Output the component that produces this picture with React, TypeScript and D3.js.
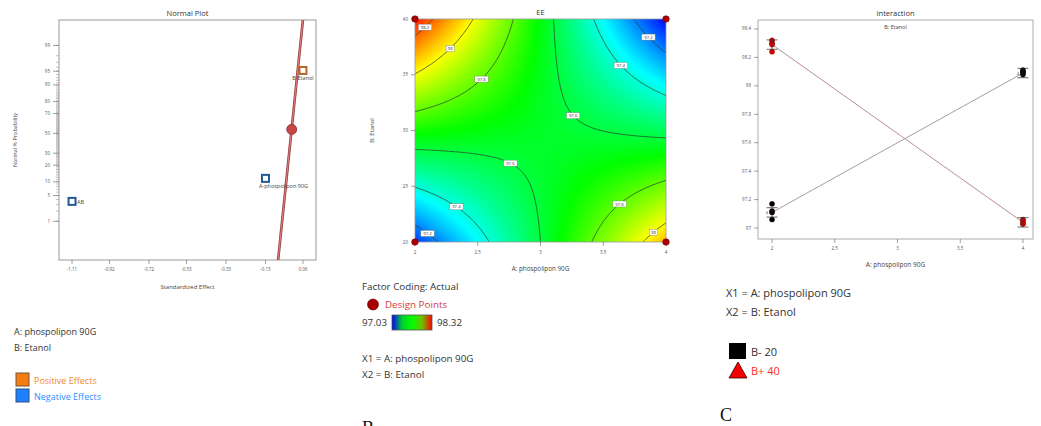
import React from 'react';
import * as d3 from 'd3';

// Normal plot of effects
const effectTerms = ['AB', 'A-phospolipon 90G', 'B-Etanol'];
const effectValues = [-1.11, -0.13, 0.06];
const effectProbs = [3.6, 11.7, 95.2];
const effectSigns = ['neg', 'neg', 'pos'];
const errorEffects = [0.003];
const errorProbs = [54.2];
const fitLineEffects = [-0.066, 0.06];
const fitLineProbs = [0.04, 99.87];
const effectTicks = [-1.11, -0.92, -0.72, -0.53, -0.33, -0.13, 0.06];
const probTicks = [1, 5, 10, 20, 30, 50, 70, 80, 90, 95, 99];

// EE response: means at A = 2 and A = 4
const levelsA = [2, 4];
const levelsB = [20, 40];
const meanB20 = [97.11, 98.09];
const meanB40 = [98.29, 97.04];
const obsB20 = [[97.17, 97.12, 97.11, 97.06], [98.11, 98.1, 98.09, 98.08]];
const obsB40 = [[98.32, 98.3, 98.29, 98.24], [97.06, 97.05, 97.03, 97.03]];
const replicates = [4, 4];
const lsdHalf = 0.033;
const colorRange = [97.03, 98.32];
const contourLevels = [97.2, 97.4, 97.6, 97.8, 98, 98.2];
const labelLevels = [98.2, 98, 97.8, 97.6, 97.4, 97.2, 97.6, 97.4, 97.2, 97.8, 98];
const labelA = [2.08, 2.28, 2.53, 3.26, 3.64, 3.86, 2.76, 2.33, 2.1, 3.63, 3.9];
const ticksA = [2, 2.5, 3, 3.5, 4];
const ticksB = [20, 25, 30, 35, 40];
const ticksEE = [97, 97.2, 97.4, 97.6, 97.8, 98, 98.2, 98.4];

const FONT = "'Open Sans', 'Noto Sans', sans-serif";
const TXT = '#333';

// inverse normal cdf (Acklam)
function probit(p: number) {
  const a = [-39.6968302866538, 220.946098424521, -275.928510446969, 138.357751867269, -30.6647980661472, 2.50662827745924];
  const b = [-54.4760987982241, 161.585836858041, -155.698979859887, 66.8013118877197, -13.2806815528857];
  const c = [-0.00778489400243029, -0.322396458041136, -2.40075827716184, -2.54973253934373, 4.37466414146497, 2.93816398269878];
  const d = [0.00778469570904146, 0.32246712907004, 2.445134137143, 3.75440866190742];
  const pl = 0.02425;
  if (p < pl) {
    const q = Math.sqrt(-2 * Math.log(p));
    return (((((c[0] * q + c[1]) * q + c[2]) * q + c[3]) * q + c[4]) * q + c[5]) / ((((d[0] * q + d[1]) * q + d[2]) * q + d[3]) * q + 1);
  }
  if (p > 1 - pl) {
    const q = Math.sqrt(-2 * Math.log(1 - p));
    return -(((((c[0] * q + c[1]) * q + c[2]) * q + c[3]) * q + c[4]) * q + c[5]) / ((((d[0] * q + d[1]) * q + d[2]) * q + d[3]) * q + 1);
  }
  const q = p - 0.5;
  const r = q * q;
  return ((((((a[0] * r + a[1]) * r + a[2]) * r + a[3]) * r + a[4]) * r + a[5]) * q) / (((((b[0] * r + b[1]) * r + b[2]) * r + b[3]) * r + b[4]) * r + 1);
}

// bilinear response surface through the four cell means
function ee(A: number, B: number) {
  const tA = (A - levelsA[0]) / (levelsA[1] - levelsA[0]);
  const tB = (B - levelsB[0]) / (levelsB[1] - levelsB[0]);
  const lo = meanB20[0] * (1 - tA) + meanB20[1] * tA;
  const hi = meanB40[0] * (1 - tA) + meanB40[1] * tA;
  return lo * (1 - tB) + hi * tB;
}
function bAtLevel(A: number, level: number) {
  const tA = (A - levelsA[0]) / (levelsA[1] - levelsA[0]);
  const lo = meanB20[0] * (1 - tA) + meanB20[1] * tA;
  const hi = meanB40[0] * (1 - tA) + meanB40[1] * tA;
  return levelsB[0] + ((level - lo) / (hi - lo)) * (levelsB[1] - levelsB[0]);
}

function NormalPlot() {
  const x0 = 59, x1 = 316, y0 = 20, y1 = 260;
  const x = d3.scaleLinear().domain([-1.176, 0.126]).range([x0, x1]);
  const z = d3.scaleLinear().domain([-3.35, 3.0]).range([y1, y0]);
  const y = (p: number) => z(probit(p / 100));
  const minor = d3.range(1, 100);
  const line = d3.line<number>().x((_, i) => x(fitLineEffects[i])).y((p) => y(p));
  return (
    <g fontFamily={FONT}>
      <text x={(x0 + x1) / 2} y={16} fontSize={7.5} textAnchor="middle" fill={TXT}>Normal Plot</text>
      <defs>
        <clipPath id="clipA"><rect x={x0} y={y0} width={x1 - x0} height={y1 - y0} /></clipPath>
      </defs>
      <rect x={x0} y={y0} width={x1 - x0} height={y1 - y0} fill="#fff" stroke="#9a9a9a" strokeWidth={1} />
      {minor.map((p) => (
        <line key={p} x1={x0 - 3} x2={x0} y1={y(p)} y2={y(p)} stroke="#888" strokeWidth={0.5} />
      ))}
      {probTicks.map((p) => (
        <g key={p}>
          <line x1={x0 - 6} x2={x0} y1={y(p)} y2={y(p)} stroke="#777" strokeWidth={0.7} />
          <text x={x0 - 9} y={y(p) + 1.5} fontSize={4.5} textAnchor="end" fill="#555">{p}</text>
        </g>
      ))}
      {effectTicks.map((t) => (
        <g key={t}>
          <line x1={x(t)} x2={x(t)} y1={y1} y2={y1 + 4} stroke="#777" strokeWidth={0.7} />
          <text x={x(t)} y={y1 + 11} fontSize={4.5} textAnchor="middle" fill="#555">{t.toFixed(2)}</text>
        </g>
      ))}
      <text x={(x0 + x1) / 2} y={y1 + 29} fontSize={6} textAnchor="middle" fill="#444">Standardized Effect</text>
      <text transform={`translate(17,${(y0 + y1) / 2}) rotate(-90)`} fontSize={5.5} textAnchor="middle" fill="#444">Normal % Probability</text>
      <g clipPath="url(#clipA)">
        <path d={line(fitLineProbs) || ''} stroke="#8a3a3a" strokeWidth={2.6} fill="none" />
        <path d={line(fitLineProbs) || ''} stroke="#e07a7a" strokeWidth={1.2} fill="none" />
      </g>
      {errorEffects.map((e, i) => (
        <circle key={i} cx={x(e)} cy={y(errorProbs[i])} r={5} fill="#c84848" stroke="#8a2a2a" strokeWidth={0.8} />
      ))}
      {effectTerms.map((t, i) => {
        const cx = x(effectValues[i]);
        const cy = y(effectProbs[i]);
        const col = effectSigns[i] === 'pos' ? '#b8692a' : '#1f5a96';
        return (
          <g key={t}>
            <rect x={cx - 3.5} y={cy - 3.5} width={7} height={7} fill="#fff" stroke={col} strokeWidth={2} />
            {i === 0 ? (
              <text x={cx + 5} y={cy + 3} fontSize={5.5} fill="#444">{t}</text>
            ) : (
              <text x={cx + (i === 1 ? 18 : 0)} y={cy + 10} fontSize={5.5} textAnchor="middle" fill="#444">{t}</text>
            )}
          </g>
        );
      })}
      <text x={14} y={335} fontSize={9} fill={TXT}>A: phospolipon 90G</text>
      <text x={14} y={351} fontSize={9} fill={TXT}>B: Etanol</text>
      <rect x={16} y={373} width={13} height={13} fill="#f57c10" stroke="#7a5530" strokeWidth={1} />
      <text x={34} y={383.5} fontSize={9} fill="#f08a28">Positive Effects</text>
      <rect x={16} y={389} width={13} height={13} fill="#1e80ff" stroke="#2a5080" strokeWidth={1} />
      <text x={34} y={399.5} fontSize={9} fill="#2f8cff">Negative Effects</text>
    </g>
  );
}

function ContourPlot() {
  const x0 = 415, x1 = 666, y0 = 19, y1 = 242;
  const x = d3.scaleLinear().domain([levelsA[0], levelsA[1]]).range([x0, x1]);
  const y = d3.scaleLinear().domain([levelsB[0], levelsB[1]]).range([y1, y0]);
  const stops = d3.range(5).map((i) => colorRange[0] + (i * (colorRange[1] - colorRange[0])) / 4);
  const color = d3.scaleLinear<string>().domain(stops)
    .range(['#0000ff', '#00ffff', '#00ff00', '#ffff00', '#ff0000']).clamp(true);
  const barColors = ['#0000ff', '#00d030', '#00ff00', '#70c000', '#ff0000'];

  const nx = 220, ny = 200;
  const gA0 = 1.95, gA1 = 4.05, gB0 = 40.5, gB1 = 19.5;
  const dA = (gA1 - gA0) / (nx - 1);
  const dB = (gB1 - gB0) / (ny - 1);
  const values: number[] = new Array(nx * ny);
  for (let j = 0; j < ny; j++) for (let i = 0; i < nx; i++) values[i + j * nx] = ee(gA0 + i * dA, gB0 + j * dB);
  const proj = d3.geoTransform({
    point(px: number, py: number) {
      // @ts-ignore
      this.stream.point(x(gA0 + (px - 0.5) * dA), y(gB0 + (py - 0.5) * dB));
    },
  });
  const path = d3.geoPath(proj);
  const fillLevels = d3.range(96.9, 98.45, 0.01);
  const bands = d3.contours().size([nx, ny]).thresholds(fillLevels)(values);
  const lines = d3.contours().size([nx, ny]).thresholds(contourLevels)(values);

  return (
    <g fontFamily={FONT}>
      <defs>
        <clipPath id="clipB"><rect x={x0} y={y0} width={x1 - x0} height={y1 - y0} /></clipPath>
        <linearGradient id="eeGrad" x1="0" x2="1" y1="0" y2="0">
          {barColors.map((c, i) => (
            <stop key={i} offset={`${i * 25}%`} stopColor={c} />
          ))}
        </linearGradient>
      </defs>
      <text x={(x0 + x1) / 2} y={15} fontSize={7.5} textAnchor="middle" fill={TXT}>EE</text>
      <g clipPath="url(#clipB)">
        <rect x={x0} y={y0} width={x1 - x0} height={y1 - y0} fill={color(colorRange[0])} />
        {bands.map((b, i) => (
          <path key={i} d={path(b as any) || ''} fill={color(b.value)} stroke={color(b.value)} strokeWidth={0.3} />
        ))}
        {lines.map((l, i) => (
          <path key={i} d={path(l as any) || ''} fill="none" stroke="#2c472c" strokeWidth={0.8} />
        ))}
        {labelLevels.map((lv, i) => {
          const cx = x(labelA[i]);
          const cy = y(bAtLevel(labelA[i], lv));
          const s = String(lv);
          const w = s.length * 2.6 + 3;
          return (
            <g key={i}>
              <rect x={cx - w / 2} y={cy - 3} width={w} height={6} fill="#fff" stroke="#777" strokeWidth={0.4} />
              <text x={cx} y={cy + 1.6} fontSize={4.3} textAnchor="middle" fill="#333">{s}</text>
            </g>
          );
        })}
      </g>
      <rect x={x0} y={y0} width={x1 - x0} height={y1 - y0} fill="none" stroke="#9a9a9a" strokeWidth={0.8} />
      {ticksA.map((t) => (
        <g key={t}>
          <line x1={x(t)} x2={x(t)} y1={y1} y2={y1 + 4} stroke="#777" strokeWidth={0.7} />
          <text x={x(t)} y={y1 + 12} fontSize={4.5} textAnchor="middle" fill="#555">{t}</text>
        </g>
      ))}
      {ticksB.map((t) => (
        <g key={t}>
          <line x1={x0 - 4} x2={x0} y1={y(t)} y2={y(t)} stroke="#777" strokeWidth={0.7} />
          <text x={x0 - 7} y={y(t) + 1.5} fontSize={4.5} textAnchor="end" fill="#555">{t}</text>
        </g>
      ))}
      <text x={(x0 + x1) / 2} y={y1 + 29} fontSize={6.3} textAnchor="middle" fill="#444">A: phospolipon 90G</text>
      <text transform={`translate(374,${(y0 + y1) / 2}) rotate(-90)`} fontSize={6} textAnchor="middle" fill="#444">B: Etanol</text>
      {levelsA.map((a) => levelsB.map((b) => (
        <circle key={`${a}-${b}`} cx={x(a)} cy={y(b)} r={3.3} fill="#a80000" stroke="#700" strokeWidth={0.5} />
      )))}
      <text x={362} y={290} fontSize={9.8} fill={TXT}>Factor Coding: Actual</text>
      <circle cx={373} cy={304.5} r={5.5} fill="#a80000" stroke="#600" strokeWidth={0.6} />
      <text x={385} y={308} fontSize={9.8} fill="#d23a3a">Design Points</text>
      <text x={362} y={326} fontSize={9.8} fill={TXT}>97.03</text>
      <rect x={392} y={315} width={40} height={15} fill="url(#eeGrad)" stroke="#555" strokeWidth={0.8} />
      <text x={437} y={326} fontSize={9.8} fill={TXT}>98.32</text>
      <text x={362} y={362} fontSize={9.8} fill={TXT}>X1 = A: phospolipon 90G</text>
      <text x={362} y={378} fontSize={9.8} fill={TXT}>X2 = B: Etanol</text>
      <text x={362} y={434} fontSize={18} fontFamily="'Liberation Serif', serif" fill="#111">B</text>
    </g>
  );
}

function InteractionPlot() {
  const x0 = 758, x1 = 1033, y0 = 20, y1 = 239;
  const x = d3.scaleLinear().domain([1.888, 4.08]).range([x0, x1]);
  const y = d3.scaleLinear().domain([96.923, 98.463]).range([y1, y0]);
  const series = [
    { key: 'B20', means: meanB20, obs: obsB20, line: '#a89c9c', pt: '#000', bar: '#222' },
    { key: 'B40', means: meanB40, obs: obsB40, line: '#b89090', pt: '#e00000', bar: '#333' },
  ];
  const ln = d3.line<number>().x((_, i) => x(levelsA[i])).y((v) => y(v));
  return (
    <g fontFamily={FONT}>
      <text x={(x0 + x1) / 2} y={16} fontSize={7.5} textAnchor="middle" fill={TXT}>Interaction</text>
      <rect x={x0} y={y0} width={x1 - x0} height={y1 - y0} fill="#fff" stroke="#9a9a9a" strokeWidth={0.8} />
      <text x={(x0 + x1) / 2} y={29} fontSize={5.5} textAnchor="middle" fill="#444">B: Etanol</text>
      {ticksEE.map((t) => (
        <g key={t}>
          <line x1={x0 - 4} x2={x0} y1={y(t)} y2={y(t)} stroke="#777" strokeWidth={0.7} />
          <text x={x0 - 7} y={y(t) + 1.5} fontSize={4.5} textAnchor="end" fill="#555">{t}</text>
        </g>
      ))}
      {ticksA.map((t) => (
        <g key={t}>
          <line x1={x(t)} x2={x(t)} y1={y1} y2={y1 + 4} stroke="#777" strokeWidth={0.7} />
          <text x={x(t)} y={y1 + 11} fontSize={4.5} textAnchor="middle" fill="#555">{t}</text>
        </g>
      ))}
      <text x={(x0 + x1) / 2} y={y1 + 28} fontSize={6.5} textAnchor="middle" fill="#444">A: phospolipon 90G</text>
      {series.map((s) => (
        <path key={s.key} d={ln(s.means) || ''} fill="none" stroke={s.line} strokeWidth={1} />
      ))}
      {series.map((s) => s.means.map((m, i) => {
        const cx = x(levelsA[i]);
        return (
          <g key={`${s.key}-${i}`}>
            {s.obs[i].map((v, k) => (
              <circle key={k} cx={cx} cy={y(v)} r={2.6} fill={s.pt} stroke="#300" strokeWidth={0.3} />
            ))}
            <line x1={cx} x2={cx} y1={y(m - lsdHalf)} y2={y(m + lsdHalf)} stroke={s.bar} strokeWidth={0.7} />
            <line x1={cx - 5.5} x2={cx + 5.5} y1={y(m - lsdHalf)} y2={y(m - lsdHalf)} stroke={s.bar} strokeWidth={0.7} />
            <line x1={cx - 5.5} x2={cx + 5.5} y1={y(m + lsdHalf)} y2={y(m + lsdHalf)} stroke={s.bar} strokeWidth={0.7} />
          </g>
        );
      }))}
      {meanB20.map((m, i) => (
        <text key={i} x={x(levelsA[i]) - 4} y={y(m) + 1.5} fontSize={4} textAnchor="end" fill="#333">{replicates[i]}</text>
      ))}
      <text x={726} y={297} fontSize={11} fill={TXT}>X1 = A: phospolipon 90G</text>
      <text x={726} y={316} fontSize={11} fill={TXT}>X2 = B: Etanol</text>
      <rect x={729} y={343} width={17} height={16} fill="#000" />
      <text x={751} y={356} fontSize={11} fill={TXT}>B- 20</text>
      <path d="M729,378 L747,378 L738,362 Z" fill="#f00000" stroke="#400" strokeWidth={0.8} />
      <text x={751} y={375} fontSize={11} fill="#ff2a2a">B+ 40</text>
      <text x={720} y={421} fontSize={18} fontFamily="'Liberation Serif', serif" fill="#111">C</text>
    </g>
  );
}

export default function App() {
  return (
    <svg width={1041} height={426} style={{ position: 'absolute', left: 0, top: 0, background: '#fff' }}>
      <rect width={1041} height={426} fill="#fff" />
      <NormalPlot />
      <ContourPlot />
      <InteractionPlot />
    </svg>
  );
}
